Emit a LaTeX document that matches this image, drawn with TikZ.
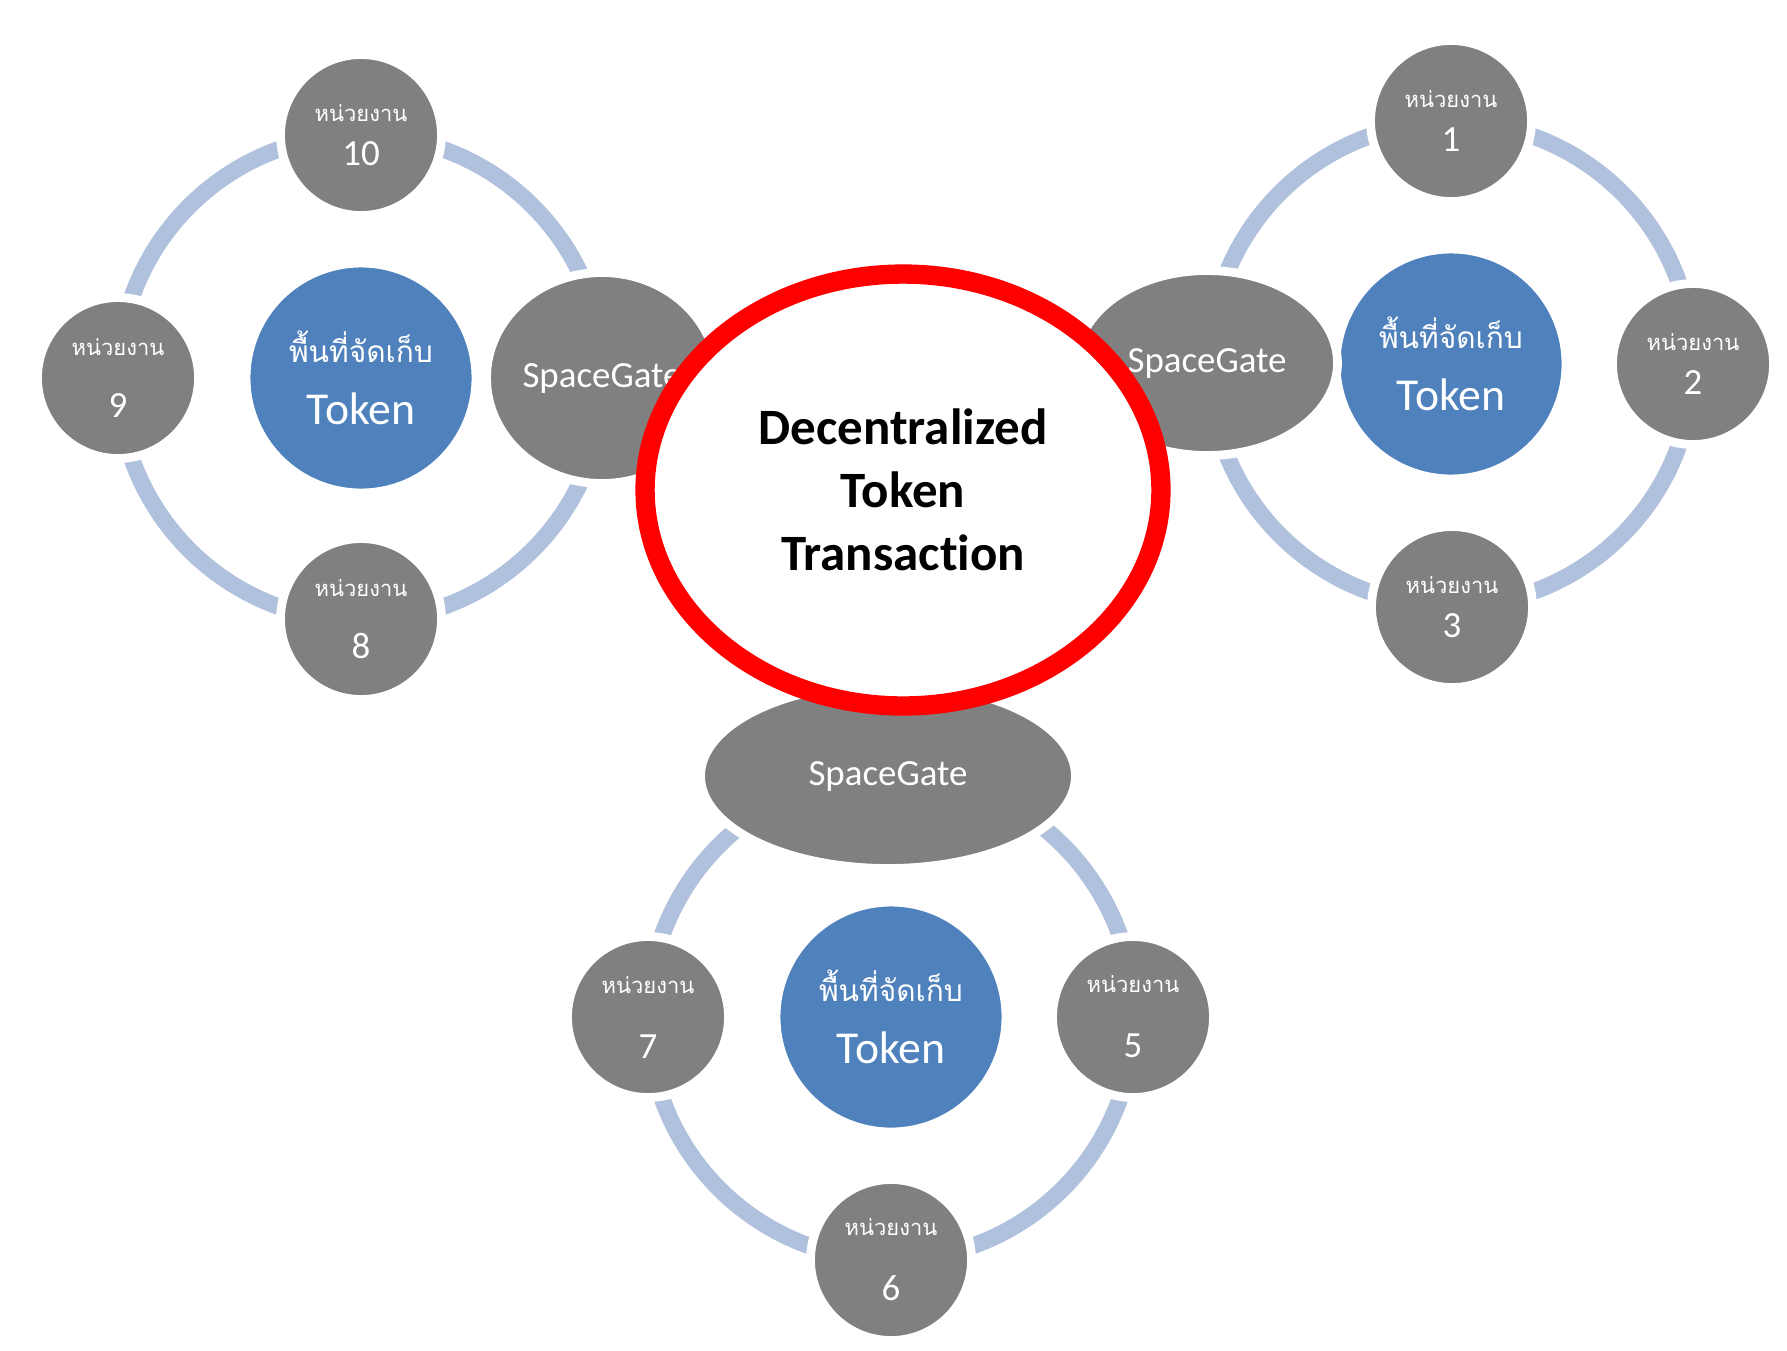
\documentclass[tikz,border=0pt]{standalone}
\usepackage{fontspec}
\setmainfont{Carlito}[Ligatures=NoCommon]
\newfontfamily\thaifont[Script=Thai]{Loma}
\usetikzlibrary{shapes.geometric}

\definecolor{unitgray}{RGB}{128,128,128}
\definecolor{storeblue}{RGB}{79,129,189}
\definecolor{ringblue}{RGB}{176,193,221}

\newcommand{\unitname}{{\thaifont\fontsize{12.5}{12.5}\selectfont หน่วยงาน}}
\newcommand{\storename}{{\thaifont\fontsize{17}{17}\selectfont พื้นที่จัดเก็บ}}

\begin{document}
\begin{tikzpicture}[
    x=0.02cm, y=-0.02cm,
    % Estilos dos nós
    ring/.style={draw=ringblue, line width=9.5pt},
    unit/.style={circle, fill=unitgray, draw=white, line width=5pt,
                 minimum size=3.22cm, inner sep=0pt, align=center,
                 text=white, font=\fontsize{21}{21}\selectfont},
    store/.style={circle, fill=storeblue, draw=white, line width=5pt,
                  minimum size=4.6cm, inner sep=0pt, align=center,
                  text=white, font=\fontsize{26}{26}\selectfont},
    gate/.style={ellipse, fill=unitgray, draw=white, line width=5pt,
                 inner sep=0pt, text=white, font=\fontsize{21}{21}\selectfont},
    core/.style={ellipse, fill=white, draw=red, line width=11pt,
                 minimum width=10.32cm, minimum height=8.64cm, align=center,
                 font=\bfseries\fontsize{29}{36}\selectfont}
]
\useasboundingbox (0,0) rectangle (1787,1350);

% Anéis
\coordinate (c_left) at (361,378);
\coordinate (c_right) at (1451,364);
\coordinate (c_bottom) at (891,1017);
\draw[ring] (c_left) circle [radius=4.86cm];
\draw[ring] (c_right) circle [radius=4.84cm];
\draw[ring] (c_bottom) circle [radius=4.86cm];

% Grupo esquerdo
\node[store] (store_left) at (c_left) {\storename\\[9pt]Token};
\node[unit] (unit10) at (361,135) {\unitname\\[4pt]10};
\node[unit] (unit9) at (118,378) {\unitname\\[14pt]9};
\node[unit] (unit8) at (361,619) {\unitname\\[14pt]8};
\node[gate, minimum width=4.62cm, minimum height=4.22cm] (gate_left) at (602,378) {SpaceGate};

% Grupo direito
\node[store] (store_right) at (c_right) {\storename\\[9pt]Token};
\node[unit] (unit1) at (1451,121) {\unitname\\[4pt]1};
\node[unit] (unit2) at (1693,364) {\unitname\\[4pt]2};
\node[unit] (unit3) at (1452,607) {\unitname\\[4pt]3};
\node[gate, minimum width=5.22cm, minimum height=3.7cm] (gate_right) at (1207,363) {SpaceGate};

% Grupo inferior
\node[store] (store_bottom) at (c_bottom) {\storename\\[9pt]Token};
\node[unit] (unit7) at (648,1017) {\unitname\\[16pt]7};
\node[unit] (unit5) at (1133,1017) {\unitname\\[16pt]5};
\node[unit] (unit6) at (891,1260) {\unitname\\[16pt]6};
\node[gate, minimum width=7.5cm, minimum height=3.7cm] (gate_bottom) at (888,776) {SpaceGate};

% Centro
\node[core] (core) at (903,490) {Decentralized\\Token\\Transaction};

\end{tikzpicture}
\end{document}
